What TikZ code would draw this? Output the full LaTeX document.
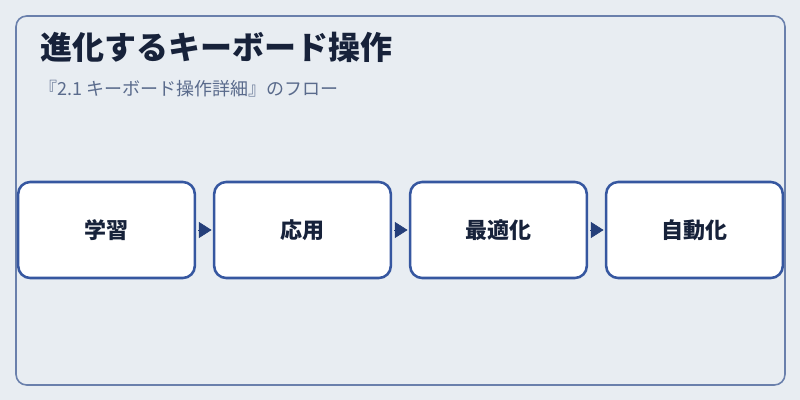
\documentclass[tikz,border=0pt]{standalone}
\usepackage{fontspec}
\setmainfont{Noto Sans CJK JP}
\usetikzlibrary{arrows.meta}
\definecolor{bgc}{HTML}{E8EDF2}
\definecolor{framec}{HTML}{6A80AC}
\definecolor{boxc}{HTML}{3657A0}
\definecolor{arrc}{HTML}{253F7A}
\definecolor{titlec}{HTML}{17223A}
\definecolor{subc}{HTML}{5A6B8C}
\tikzset{
  stepbox/.style={draw=boxc, line width=1.9pt, fill=white, rounded corners=9pt,
    minimum width=132.5pt, minimum height=72pt, inner sep=0pt,
    font=\fontsize{16.5pt}{19pt}\selectfont\bfseries, text=titlec},
  flowarrow/.style={draw=arrc, line width=0.5pt, shorten <=1.5pt, shorten >=1pt,
    -{Triangle[length=9.5pt, width=12pt, fill=arrc]}},
}
\begin{document}
\begin{tikzpicture}[x=0.75pt, y=-0.75pt]
\useasboundingbox (0,0) rectangle (800,400);
\fill[bgc] (0,0) rectangle (800,400);
\draw[framec, line width=1.2pt, rounded corners=8pt] (16,16) rectangle (785,385);
\node[anchor=west, inner sep=0pt, text=titlec, font=\fontsize{24pt}{29pt}\selectfont\bfseries] (title) at (40,47) {進化するキーボード操作};
\node[anchor=west, inner sep=0pt, text=subc, font=\fontsize{13.5pt}{16pt}\selectfont] (sub) at (39,89) {『2.1 キーボード操作詳細』のフロー};
\node[stepbox] (b1) at (106.5,230) {学習};
\node[stepbox] (b2) at (302.5,230) {応用};
\node[stepbox] (b3) at (498.5,230) {最適化};
\node[stepbox] (b4) at (694.5,230) {自動化};
\draw[flowarrow] (b1.east) -- (b2.west);
\draw[flowarrow] (b2.east) -- (b3.west);
\draw[flowarrow] (b3.east) -- (b4.west);
\end{tikzpicture}
\end{document}
